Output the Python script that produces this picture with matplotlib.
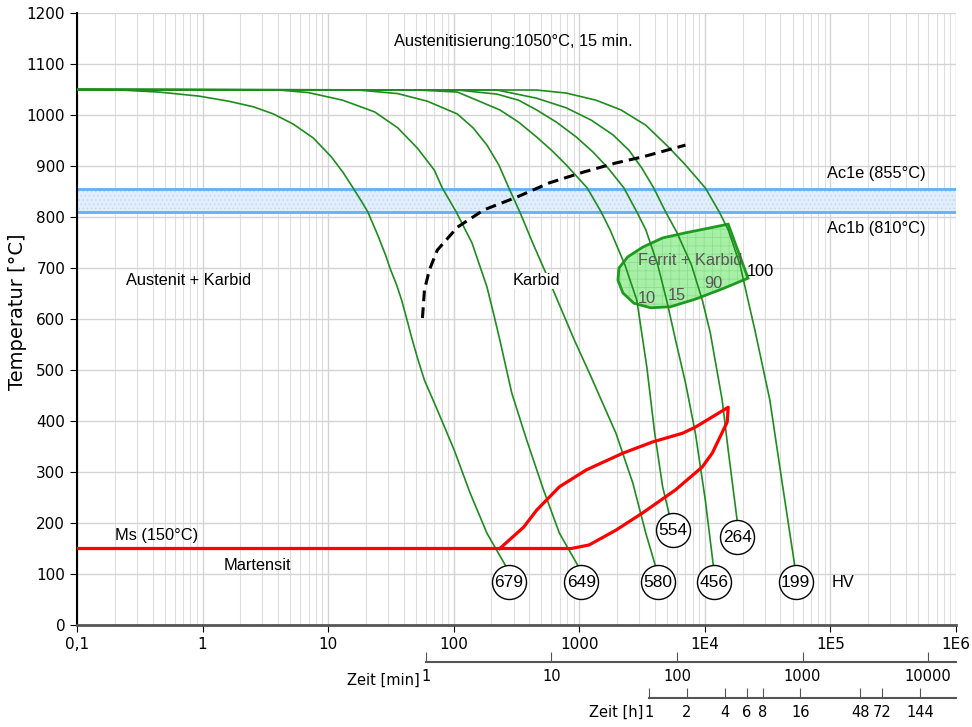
import numpy as np
import matplotlib
matplotlib.use("Agg")
import matplotlib.pyplot as plt
from matplotlib.ticker import FixedLocator, NullLocator, LogLocator

plt.rcParams["hatch.linewidth"] = 0.6

# cooling curves: time [s], temperature [°C]
t_679 = [0.1, 0.22, 0.45, 0.94, 1.62, 2.55, 3.67, 5.29, 7.61, 10.6, 13.1, 15.8, 18.2, 20.7, 24.8,
         28.7, 31.5, 35.1, 38.5, 42.1, 46.1, 51.4, 58.5, 74, 101, 135, 184, 265]
T_679 = [1050, 1049, 1045, 1037, 1027, 1016, 1002, 982, 955, 918, 888, 857, 833, 810, 765,
         725, 696, 667, 637, 602, 565, 524, 480, 422, 343, 259, 180, 112]
t_649 = [0.1, 4.03, 6.95, 13.1, 23.5, 35.8, 51.4, 70.1, 81.1, 104.7, 140, 184, 209, 233, 290,
         381, 519, 695, 1000]
T_649 = [1050, 1049, 1044, 1029, 1006, 975, 935, 892, 857, 810, 749, 663, 608, 559, 455,
         363, 265, 180, 112]
t_580 = [0.1, 17.3, 35.8, 61.8, 107, 142.6, 184, 229, 275, 336, 433, 529, 670, 913, 1245,
         1960, 2673, 3388, 4064]
T_580 = [1050, 1049, 1042, 1027, 1002, 975, 941, 902, 857, 810, 745, 696, 637, 559, 486,
         376, 278, 180, 114]
t_554 = [0.1, 51.4, 107, 153, 233, 329, 457, 601, 789, 1157, 1493, 1758, 2311, 2873, 3451,
         3990, 4613, 5534]
T_554 = [1050, 1049, 1045, 1029, 1010, 986, 957, 931, 902, 857, 810, 775, 706, 637, 506,
         376, 271, 190]
t_456 = [0.1, 107, 221, 329, 457, 658, 946, 1291, 1695, 2269, 2873, 3388, 4217, 4963, 5844,
         7015, 8414, 10090, 11670]
T_456 = [1050, 1049, 1041, 1029, 1010, 986, 957, 927, 896, 857, 810, 775, 706, 637, 559,
         475, 376, 245, 118]
t_264 = [0.1, 221, 457, 789, 1245, 1858, 2485, 3148, 3917, 4874, 5954, 7822, 9550, 11050,
         13750, 15350, 18070]
T_264 = [1050, 1049, 1033, 1014, 990, 961, 931, 896, 857, 810, 771, 706, 637, 573,
         441, 343, 206]
t_199 = [0.1, 457, 789, 1362, 2148, 3388, 5146, 7015, 10090, 13030, 15350, 19080, 22080,
         25060, 32950, 41000, 51900]
T_199 = [1050, 1049, 1043, 1029, 1010, 980, 937, 902, 857, 810, 775, 706, 637,
         578, 441, 284, 118]

curves = [(t_679, T_679), (t_649, T_649), (t_580, T_580), (t_554, T_554),
          (t_456, T_456), (t_264, T_264), (t_199, T_199)]

# hardness values at the curve ends
hv_labels = ["679", "649", "580", "554", "456", "264", "199"]
hv_t = [275, 1037, 4217, 5534, 11890, 18070, 52860]
hv_T = [84, 84, 84, 186, 84, 172, 84]

# carbide precipitation start (dashed)
t_karbid = [56.4, 58.5, 64, 74, 107, 174, 318, 579, 1076, 1960, 3206, 7015]
T_karbid = [602, 657, 696, 735, 780, 814, 839, 867, 888, 906, 918, 941]

# Ms line + bainite area (red)
t_red = [0.1, 865, 1199, 1960, 3206, 5844, 9550, 11460, 15070, 15350, 11460, 8414,
         6640, 3846, 2228, 1136, 695, 457, 361, 233]
T_red = [150, 150, 157, 186, 220, 265, 310, 337, 398, 427, 408, 388,
         376, 359, 337, 304, 271, 225, 192, 150]

# ferrite + carbide area
t_ferrit = [15350, 10660, 7015, 4613, 3206, 2438, 2070, 2033, 2228, 2722, 3707, 5335, 8414, 13750, 22080]
T_ferrit = [786, 778, 769, 759, 741, 722, 700, 676, 651, 631, 622, 624, 639, 659, 680]

Ac1b, Ac1e = 810, 855

x_ticks = [0.1, 1, 10, 100, 1000, 1e4, 1e5, 1e6]
x_labels = ["0,1", "1", "10", "100", "1000", "1E4", "1E5", "1E6"]
min_ticks = [1, 10, 100, 1000, 10000]
h_ticks = [1, 2, 4, 6, 8, 16, 48, 72, 144]

fig = plt.figure(figsize=(9.72, 7.27), dpi=100)
ax = fig.add_axes([0.0792, 0.1403, 0.9043, 0.8418])
ax.set_xscale("log")
ax.set_xlim(0.1, 1e6)
ax.set_ylim(0, 1200)

ax.xaxis.set_major_locator(FixedLocator(x_ticks))
ax.set_xticklabels(x_labels)
ax.xaxis.set_minor_locator(LogLocator(base=10, subs=np.arange(2, 10), numticks=20))
ax.set_yticks(np.arange(0, 1201, 100))
ax.tick_params(axis="x", which="minor", length=0)
ax.tick_params(axis="both", which="major", labelsize=11, length=5, direction="out")
ax.grid(which="major", color="#d4d4d4", lw=1, zorder=0)
ax.grid(which="minor", axis="x", color="#dedede", lw=0.8, zorder=0)
ax.set_axisbelow(True)
for s in ["top", "right"]:
    ax.spines[s].set_visible(False)
ax.spines["left"].set_linewidth(1.5)
ax.spines["bottom"].set_linewidth(2)
ax.spines["bottom"].set_color("#555555")

# Ac1 band
ax.axhspan(Ac1b, Ac1e, facecolor="#e2eefc", edgecolor="#bcd9f7", hatch="....", lw=0, zorder=1)
ax.axhline(Ac1b, color="#62b0f6", lw=2, zorder=2)
ax.axhline(Ac1e, color="#62b0f6", lw=2, zorder=2)

# ferrite area
ax.fill(t_ferrit, T_ferrit, facecolor="#a8f0a8", edgecolor="#8ddf8d", hatch="++", lw=0, zorder=3)
ax.fill(t_ferrit, T_ferrit, facecolor="none", edgecolor="#1e9b1e", lw=2, zorder=3)

for t, T in curves:
    ax.plot(t, T, color="#1e8c1e", lw=1.2, zorder=4)

ax.plot(t_karbid, T_karbid, color="black", lw=2.2, ls=(0, (3.5, 2)), zorder=5)
ax.plot(t_red, T_red, color="red", lw=2.3, zorder=5)

ax.scatter(hv_t, hv_T, s=600, facecolor="white", edgecolor="black", lw=1, zorder=6)
for lab, t, T in zip(hv_labels, hv_t, hv_T):
    ax.text(t, T, lab, ha="center", va="center", fontsize=12.5, family="Liberation Sans", zorder=7)

txt = dict(family="Liberation Sans", fontsize=11.8)
ax.text(301, 1145, "Austenitisierung:1050°C, 15 min.", ha="center", va="center", **txt)
ax.text(94700, 886, "Ac1e (855°C)", ha="left", va="center", **txt)
ax.text(94700, 778, "Ac1b (810°C)", ha="left", va="center", **txt)
ax.text(0.78, 676, "Austenit + Karbid", ha="center", va="center", **txt)
ax.text(457, 675, "Karbid", ha="center", va="center", zorder=4.5,
        bbox=dict(facecolor="white", edgecolor="none", pad=0.5), **txt)
ax.text(0.2, 175, "Ms (150°C)", ha="left", va="center", **txt)
ax.text(1.48, 116, "Martensit", ha="left", va="center", **txt)
ax.text(101800, 84, "HV", ha="left", va="center", **txt)
ax.text(7677, 714, "Ferrit + Karbid", ha="center", va="center", color="#555555", **txt)
ax.text(3451, 641, "10", ha="center", va="center", color="#555555", **txt)
ax.text(5954, 647, "15", ha="center", va="center", color="#555555", **txt)
ax.text(11670, 669, "90", ha="center", va="center", color="#555555", **txt)
ax.text(27470, 694, "100", ha="center", va="center", **txt)

fig.text(18 / 972, 0.571, "Temperatur [°C]", rotation=90, ha="center", va="center", fontsize=14)

# minutes axis
sec_m = ax.secondary_xaxis(-0.0605, functions=(lambda s: s / 60, lambda m: m * 60))
sec_m.xaxis.set_major_locator(FixedLocator(min_ticks))
sec_m.set_xticklabels([str(v) for v in min_ticks])
sec_m.xaxis.set_minor_locator(NullLocator())
sec_m.tick_params(direction="in", length=7, labelsize=10.5, pad=5, color="#555555")
sec_m.spines["bottom"].set_bounds(1, 1e6 / 60)
sec_m.spines["bottom"].set_color("#555555")
sec_m.spines["bottom"].set_linewidth(1.5)
fig.text(420 / 972, 1 - 680 / 727, "Zeit [min]", ha="right", va="center", fontsize=10.5)

# hours axis
sec_h = ax.secondary_xaxis(-0.119, functions=(lambda s: s / 3600, lambda h: h * 3600))
sec_h.xaxis.set_major_locator(FixedLocator(h_ticks))
sec_h.set_xticklabels([str(v) for v in h_ticks])
sec_h.xaxis.set_minor_locator(NullLocator())
sec_h.tick_params(direction="in", length=7, labelsize=10.5, pad=5, color="#555555")
sec_h.spines["bottom"].set_bounds(1, 1e6 / 3600)
sec_h.spines["bottom"].set_color("#555555")
sec_h.spines["bottom"].set_linewidth(1.5)
fig.text(643 / 972, 1 - 712 / 727, "Zeit [h]", ha="right", va="center", fontsize=10.5)

fig.savefig("out.png", dpi=100)
